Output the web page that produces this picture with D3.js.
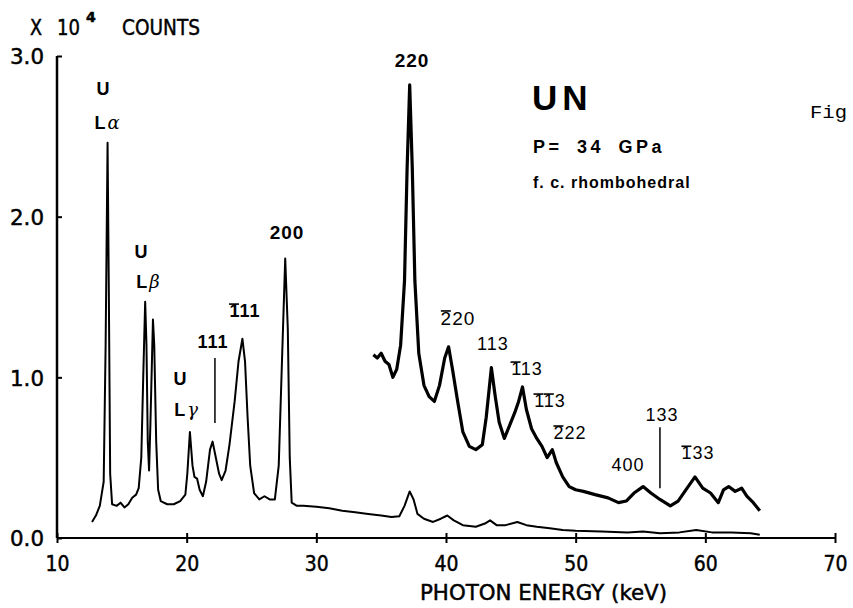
<!DOCTYPE html>
<html>
<head>
<meta charset="utf-8">
<script src="https://cdn.jsdelivr.net/npm/d3@7"></script>
<style>
  body { margin: 0; background: #fff; }
  svg { display: block; }
  .ax { font-family: "DejaVu Sans", sans-serif; font-size: 22px; fill: #000; stroke: #000; stroke-width: 0.5px; }
  .lbl { font-family: "Liberation Sans", Arial, sans-serif; fill: #000; }
</style>
</head>
<body>
<script>
var w = 853;
var h = 608;

// main spectrum: photon energy (keV) and counts (x 10^4)
var mainEnergy = [12.7, 13.0, 13.3, 13.6, 13.75, 13.9, 14.0, 14.1, 14.25, 14.6, 14.9, 15.2, 15.5, 15.8, 16.1, 16.3,
  16.5, 16.65, 16.8, 16.9, 17.0, 17.1, 17.2, 17.4, 17.5, 17.65, 17.8, 18.0, 18.5, 19.0, 19.5, 19.9,
  20.05, 20.25, 20.45, 20.6, 20.8, 21.0, 21.25, 21.5, 21.8, 22.0, 22.2, 22.5, 22.7, 23.0, 23.3, 23.7,
  24.0, 24.3, 24.5, 24.7, 24.9, 25.2, 25.6, 26.0, 26.4, 26.8, 27.1, 27.35, 27.6, 27.8, 27.95, 28.1,
  28.5, 29.0, 30.0, 31.0, 32.0, 33.0, 34.0, 35.0, 35.8, 36.4, 36.8, 37.2, 37.5, 37.8, 38.3, 39.0,
  39.6, 40.1, 40.6, 41.3, 42.3, 43.0, 43.4, 43.9, 44.6, 45.5, 46.2, 47.0, 48.0, 49.0, 50.0, 52.0,
  54.0, 55.2, 56.5, 58.0, 59.3, 60.5, 62.0, 63.5, 64.2];
var mainCounts = [0.10, 0.14, 0.20, 0.35, 1.2, 2.46, 1.5, 0.4, 0.21, 0.20, 0.22, 0.19, 0.21, 0.25, 0.27, 0.31,
  0.5, 1.0, 1.47, 1.2, 0.6, 0.42, 0.7, 1.36, 1.2, 0.6, 0.3, 0.23, 0.21, 0.21, 0.23, 0.27,
  0.4, 0.66, 0.45, 0.38, 0.37, 0.30, 0.26, 0.35, 0.55, 0.60, 0.52, 0.40, 0.36, 0.42, 0.58, 0.85,
  1.1, 1.24, 1.1, 0.75, 0.45, 0.28, 0.24, 0.26, 0.24, 0.24, 0.45, 1.1, 1.74, 1.3, 0.5, 0.22,
  0.20, 0.20, 0.195, 0.185, 0.17, 0.16, 0.15, 0.14, 0.13, 0.135, 0.2, 0.29, 0.24, 0.15, 0.12, 0.10,
  0.12, 0.14, 0.11, 0.08, 0.07, 0.09, 0.11, 0.08, 0.08, 0.10, 0.08, 0.07, 0.06, 0.05, 0.045, 0.04,
  0.035, 0.04, 0.03, 0.035, 0.05, 0.035, 0.035, 0.03, 0.02];

// magnified high-energy part of the spectrum
var zoomEnergy = [34.4, 34.7, 35.0, 35.3, 35.6, 35.9, 36.2, 36.5, 36.8, 37.0, 37.2, 37.4, 37.6, 37.9, 38.3, 38.7,
  39.1, 39.5, 39.9, 40.2, 40.5, 40.9, 41.3, 41.8, 42.3, 42.8, 43.1, 43.5, 43.8, 44.1, 44.5, 44.9,
  45.3, 45.6, 45.9, 46.2, 46.6, 47.0, 47.4, 47.8, 48.2, 48.5, 49.0, 49.5, 50.0, 50.6, 51.5, 52.5,
  53.3, 53.9, 54.5, 55.2, 55.8, 56.5, 57.3, 57.9, 58.5, 59.2, 59.8, 60.4, 61.0, 61.4, 61.8, 62.3,
  62.8, 63.2, 63.7, 64.2];
var zoomCounts = [1.14, 1.12, 1.15, 1.10, 1.08, 1.0, 1.05, 1.2, 1.6, 2.3, 2.82, 2.3, 1.6, 1.15, 0.95, 0.88,
  0.85, 0.95, 1.12, 1.19, 1.05, 0.85, 0.66, 0.57, 0.55, 0.58, 0.75, 1.06, 0.88, 0.72, 0.62, 0.70,
  0.78, 0.85, 0.94, 0.80, 0.68, 0.62, 0.57, 0.50, 0.55, 0.47, 0.38, 0.32, 0.30, 0.29, 0.27, 0.25,
  0.22, 0.23, 0.28, 0.32, 0.28, 0.24, 0.20, 0.23, 0.30, 0.38, 0.31, 0.28, 0.22, 0.30, 0.32, 0.29,
  0.31, 0.26, 0.22, 0.17];

var xTicks = [10, 20, 30, 40, 50, 60, 70];
var yTicks = [0, 1, 2, 3];

// reflection labels: text, overbarred character indexes, keV, counts (baseline), bold
var peakLabels = [
  {t: "220", bars: [], k: 37.38, v: 2.93, bold: true, size: 19},
  {t: "200", bars: [], k: 27.74, v: 1.86, bold: true, size: 19},
  {t: "111", bars: [], k: 22.03, v: 1.18, bold: true, size: 18},
  {t: "111", bars: [0], k: 24.5, v: 1.375, bold: true, size: 18},
  {t: "220", bars: [0], k: 40.92, v: 1.326, bold: false, size: 19},
  {t: "113", bars: [], k: 43.62, v: 1.17, bold: false, size: 18},
  {t: "113", bars: [0], k: 46.25, v: 1.014, bold: false, size: 18},
  {t: "113", bars: [0, 1], k: 48.02, v: 0.815, bold: false, size: 18},
  {t: "222", bars: [0], k: 49.56, v: 0.616, bold: false, size: 18},
  {t: "400", bars: [], k: 54.03, v: 0.417, bold: false, size: 18},
  {t: "133", bars: [], k: 56.66, v: 0.728, bold: false, size: 18},
  {t: "133", bars: [0], k: 59.43, v: 0.49, bold: false, size: 18}];

var lineLabels = [
  {l: "α", k: 13.55, vU: 2.757, kL: 13.86, vL: 2.546},
  {l: "β", k: 16.48, vU: 1.743, kL: 17.02, vL: 1.556},
  {l: "γ", k: 19.49, vU: 0.952, kL: 19.95, vL: 0.759}];

var markers = [
  {k: 22.18, v0: 0.716, v1: 1.12},
  {k: 56.5, v0: 0.31, v1: 0.69}];

var x = d3.scaleLinear().domain([10, 70]).range([57, 835]);
var y = d3.scaleLinear().domain([0, 3]).range([538, 56]);

var svg = d3.select("body").append("svg")
  .attr("width", w)
  .attr("height", h);

// narrow plotter-like lettering for the axes
function narrow(sel, per) {
  sel.attr("textLength", function() { var s = this.textContent; return s.replace(".", "").length * per + (s.indexOf(".") >= 0 ? 6 : 0); })
    .attr("lengthAdjust", "spacingAndGlyphs");
}

// axes
var xAxis = svg.append("g")
  .attr("transform", "translate(0," + y(0) + ")")
  .call(d3.axisBottom(x).tickValues(xTicks).tickFormat(d3.format("d")).tickSize(5).tickPadding(12));
xAxis.select(".domain").attr("d", "M" + x(10) + ",0H" + x(70)).attr("stroke-width", 2);
xAxis.selectAll(".tick line").attr("y1", -5).attr("stroke-width", 2);
xAxis.selectAll(".tick text").attr("class", "ax").call(narrow, 12);
xAxis.attr("font-size", null).attr("font-family", null);

var yAxis = svg.append("g")
  .attr("transform", "translate(" + x(10) + ",0)")
  .call(d3.axisLeft(y).tickValues(yTicks).tickFormat(d3.format(".1f")).tickSize(5).tickPadding(8));
yAxis.select(".domain").attr("d", "M0," + y(0) + "V" + y(3)).attr("stroke-width", 2.5);
yAxis.selectAll(".tick line").attr("x2", 5).attr("stroke-width", 2);
yAxis.selectAll(".tick text").attr("class", "ax").attr("dy", "0.36em").call(narrow, 14);
yAxis.attr("font-size", null).attr("font-family", null);

// axis titles
svg.append("text").attr("class", "ax").attr("x", 420).attr("y", 600)
  .attr("textLength", 247).attr("lengthAdjust", "spacingAndGlyphs")
  .text("PHOTON ENERGY (keV)");
svg.append("text").attr("class", "ax").attr("x", 30).attr("y", 35)
  .attr("textLength", 12).attr("lengthAdjust", "spacingAndGlyphs").text("X");
svg.append("text").attr("class", "ax").attr("x", 57).attr("y", 35)
  .attr("textLength", 23).attr("lengthAdjust", "spacingAndGlyphs").text("10");
svg.append("text").attr("class", "ax").attr("x", 86).attr("y", 22)
  .style("font-size", "14px").style("font-weight", "bold").text("4");
svg.append("text").attr("class", "ax").attr("x", 122).attr("y", 35)
  .attr("textLength", 78).attr("lengthAdjust", "spacingAndGlyphs").text("COUNTS");

// spectra
var line = d3.line()
  .x(function(d) { return x(d[0]); })
  .y(function(d) { return y(d[1]); });

svg.append("path")
  .datum(d3.zip(mainEnergy, mainCounts))
  .attr("d", line)
  .attr("fill", "none")
  .attr("stroke", "#000")
  .attr("stroke-width", 2)
  .attr("stroke-linejoin", "round");

svg.append("path")
  .datum(d3.zip(zoomEnergy, zoomCounts))
  .attr("d", line)
  .attr("fill", "none")
  .attr("stroke", "#000")
  .attr("stroke-width", 3.2)
  .attr("stroke-linejoin", "round");

// marker lines for 111 and 133
svg.selectAll("line.mk")
  .data(markers)
  .enter()
  .append("line")
  .attr("class", "mk")
  .attr("x1", function(d) { return x(d.k); })
  .attr("x2", function(d) { return x(d.k); })
  .attr("y1", function(d) { return y(d.v0); })
  .attr("y2", function(d) { return y(d.v1); })
  .attr("stroke", "#000")
  .attr("stroke-width", 1.5);

// reflection labels with overbars
peakLabels.forEach(function(d) {
  var t = svg.append("text")
    .attr("class", "lbl")
    .attr("x", x(d.k))
    .attr("y", y(d.v))
    .attr("text-anchor", "middle")
    .attr("font-size", d.size)
    .attr("font-weight", d.bold ? "bold" : "normal")
    .attr("letter-spacing", 1)
    .text(d.t);
  d.bars.forEach(function(i) {
    var e = t.node().getExtentOfChar(i);
    var cx = e.x + (e.width - 1) / 2;
    svg.append("line")
      .attr("x1", cx - 5).attr("x2", cx + 5)
      .attr("y1", e.y + 3).attr("y2", e.y + 3)
      .attr("stroke", "#000").attr("stroke-width", 1.6);
  });
});

// uranium L lines
lineLabels.forEach(function(d) {
  svg.append("text").attr("class", "lbl")
    .attr("x", x(d.k)).attr("y", y(d.vU))
    .attr("text-anchor", "middle")
    .attr("font-size", 18).attr("font-weight", "bold")
    .text("U");
  var t = svg.append("text").attr("class", "lbl")
    .attr("x", x(d.kL)).attr("y", y(d.vL))
    .attr("text-anchor", "middle")
    .attr("font-size", 18);
  t.append("tspan").attr("font-weight", "bold").text("L");
  t.append("tspan").attr("font-family", "DejaVu Serif").attr("font-style", "italic").attr("dx", 2).text(d.l);
});

// sample notes
svg.append("text").attr("class", "lbl").attr("x", 532).attr("y", 110)
  .attr("font-size", 35).attr("font-weight", "bold").attr("letter-spacing", 5).text("UN");
svg.append("text").attr("class", "lbl").attr("x", 533).attr("y", 153)
  .attr("font-size", 18).attr("font-weight", "bold").attr("letter-spacing", 3.5).attr("word-spacing", 6)
  .text("P= 34 GPa");
svg.append("text").attr("class", "lbl").attr("x", 533).attr("y", 188)
  .attr("font-size", 16).attr("font-weight", "bold").attr("letter-spacing", 1)
  .text("f. c. rhombohedral");
svg.append("text").attr("x", 810).attr("y", 118)
  .attr("font-family", "Liberation Mono, monospace").attr("font-size", 18)
  .attr("textLength", 37).attr("lengthAdjust", "spacingAndGlyphs").text("Fig");
</script>
</body>
</html>
